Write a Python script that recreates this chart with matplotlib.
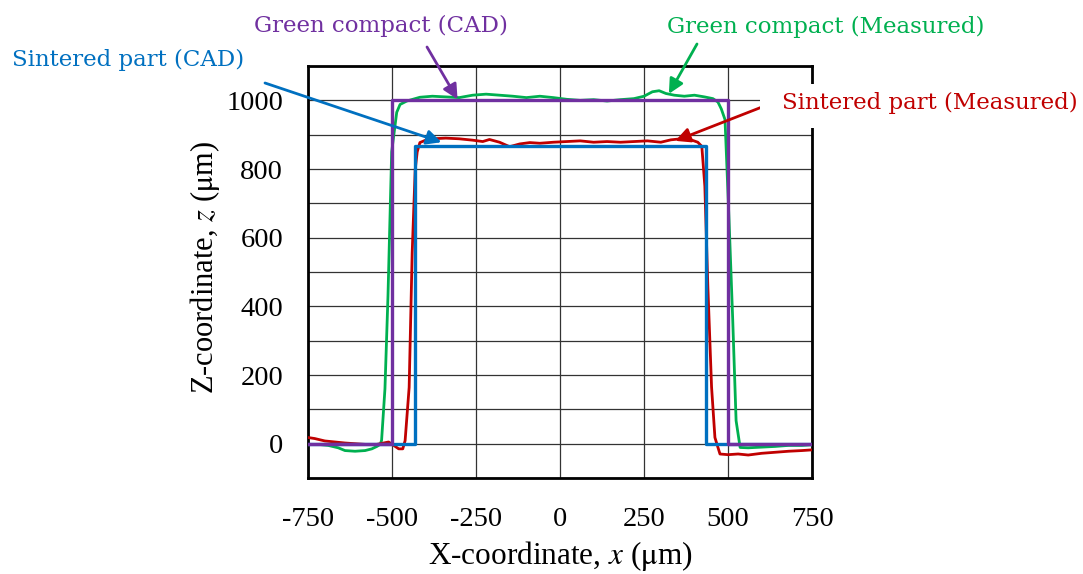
import matplotlib
matplotlib.use("Agg")
import matplotlib.pyplot as plt
from matplotlib.patches import Rectangle

plt.rcParams['font.family'] = ['Liberation Serif', 'DejaVu Serif']
plt.rcParams['mathtext.fontset'] = 'stix'
plt.rcParams['axes.unicode_minus'] = False

# CAD outlines
green_cad_x = [-750, -500, -500, 500, 500, 750]
green_cad_z = [0, 0, 1000, 1000, 0, 0]
sint_cad_x = [-750, -433, -433, 433, 433, 750]
sint_cad_z = [0, 0, 866, 866, 0, 0]

# measured profiles
green_x = [-750, -720, -690, -660, -640, -610, -580, -560, -545, -535, -531, -521, -512,
           -501, -486, -476, -456, -417, -380, -340, -300, -260, -220, -180, -140, -100,
           -60, -20, 20, 60, 100, 140, 180, 220, 250, 275, 295, 315, 340, 370, 400, 430,
           455, 470, 480, 491, 503, 514, 524, 536, 560, 600, 640, 680, 720, 750]
green_z = [-3, -2, -5, -12, -20, -22, -20, -15, -8, -2, 10, 160, 430,
           850, 965, 988, 998, 1009, 1012, 1010, 1008, 1015, 1018, 1015, 1012, 1008,
           1012, 1008, 1003, 1000, 1002, 998, 1002, 1005, 1012, 1025, 1028, 1020, 1015, 1012, 1015, 1010,
           1005, 995, 975, 944, 652, 360, 67, -11, -12, -10, -8, -5, -5, -3]

red_x = [-750, -730, -700, -670, -640, -610, -580, -550, -525, -510, -495, -480, -468,
         -461, -449, -440, -431, -425, -417, -400, -380, -340, -300, -260, -230, -210,
         -180, -150, -120, -90, -60, -20, 20, 60, 100, 140, 180, 220, 260, 300, 330, 360,
         390, 410, 422, 431, 440, 451, 461, 476, 500, 530, 560, 600, 640, 680, 720, 750]
red_z = [18, 15, 8, 5, 2, 0, -2, -3, 2, 5, -5, -15, -15,
         9, 164, 555, 798, 850, 877, 884, 888, 890, 888, 884, 880, 886,
         878, 865, 873, 877, 875, 878, 880, 882, 878, 880, 878, 880, 882, 878, 885, 888,
         885, 878, 866, 750, 457, 165, 18, -30, -32, -30, -33, -28, -25, -22, -20, -18]

c_green = '#00B050'
c_purple = '#7030A0'
c_blue = '#0070C0'
c_red = '#C00000'

fig = plt.figure(figsize=(10.83, 5.74), dpi=100)
ax = fig.add_axes([0.2844, 0.1672, 0.4654, 0.7178])

ax.plot(green_x, green_z, color=c_green, lw=2.0, zorder=3)
ax.plot(red_x, red_z, color=c_red, lw=2.0, zorder=3)
ax.plot(sint_cad_x, sint_cad_z, color=c_blue, lw=2.4, zorder=4)
ax.plot(green_cad_x, green_cad_z, color=c_purple, lw=2.4, zorder=4)

ax.set_xlim(-750, 750)
ax.set_ylim(-100, 1100)
ax.set_xticks([-750, -500, -250, 0, 250, 500, 750])
ax.set_yticks(range(-100, 1101, 100), minor=True)
ax.set_yticks([0, 200, 400, 600, 800, 1000])
ax.grid(True, which='both', color='#333333', lw=0.9)
ax.set_axisbelow(True)
ax.tick_params(which='both', length=0, labelsize=20.5)
ax.tick_params(axis='x', pad=21)
ax.tick_params(axis='y', pad=18)
for s in ax.spines.values():
    s.set_linewidth(2.0)
    s.set_color('black')

ax.set_xlabel(r'X-coordinate, $\it{x}$ ($\mathrm{\mu}$m)', fontsize=22.5)
ax.set_ylabel(r'Z-coordinate, $\it{z}$ ($\mathrm{\mu}$m)', fontsize=22)
ax.xaxis.set_label_coords(0.5, -0.148)
ax.yaxis.set_label_coords(-0.17, 0.51)

H = 574
W = 1083
ann_font = dict(family='DejaVu Serif', fontsize=16.5)

# white patch behind the right-hand label (it hides part of the frame)
fig.patches.append(Rectangle((760 / W, 1 - 128 / H), 322 / W, 44 / H,
                             transform=fig.transFigure, fc='white', ec='none', zorder=1))


def label(text, cx, cy, color, tip, tail):
    fig.text(cx / W, 1 - cy / H, text, ha='center', va='center', color=color,
             zorder=5, **ann_font)
    ax.annotate('', xy=tip, xycoords='data',
                xytext=(tail[0], H - tail[1]), textcoords='figure pixels',
                arrowprops=dict(arrowstyle='-|>', color=color, lw=2.0,
                                mutation_scale=22, shrinkA=0, shrinkB=0),
                annotation_clip=False, zorder=6)


label('Green compact (CAD)', 381, 26, c_purple, (-305, 1003), (427, 47))
label('Green compact (Measured)', 826, 27, c_green, (324, 1019), (697, 44))
label('Sintered part (CAD)', 128, 60, c_blue, (-353, 878), (265, 83))
label('Sintered part (Measured)', 930, 103, c_red, (343, 882), (762, 107))

fig.savefig('out.png', dpi=100)
